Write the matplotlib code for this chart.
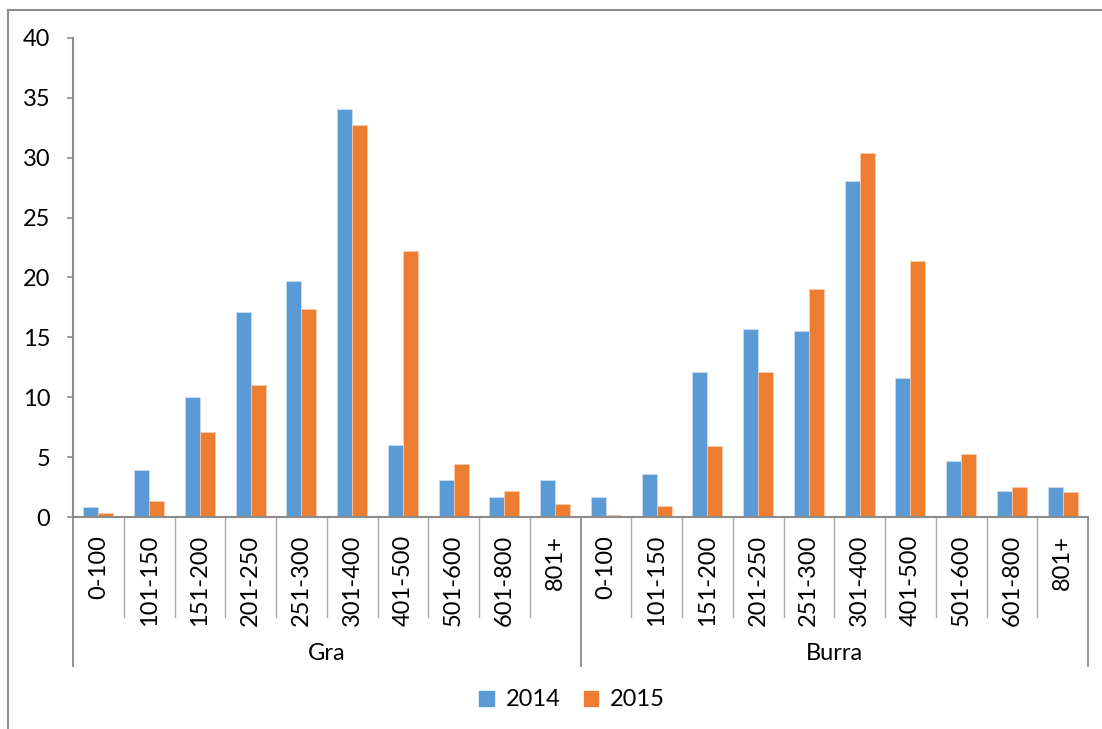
import numpy as np
import matplotlib.pyplot as plt
from matplotlib.lines import Line2D
from matplotlib.patches import Patch

plt.rcParams['font.family'] = ['Lato', 'DejaVu Sans']

bins = ['0-100', '101-150', '151-200', '201-250', '251-300',
        '301-400', '401-500', '501-600', '601-800', '801+']
groups = ['Gra', 'Burra']

gra_2014 = [0.8, 3.9, 10.0, 17.1, 19.7, 34.1, 6.0, 3.1, 1.7, 3.1]
gra_2015 = [0.3, 1.3, 7.1, 11.0, 17.4, 32.7, 22.2, 4.4, 2.2, 1.1]
burra_2014 = [1.7, 3.6, 12.1, 15.7, 15.5, 28.1, 11.6, 4.7, 2.2, 2.5]
burra_2015 = [0.15, 0.9, 5.9, 12.1, 19.0, 30.4, 21.4, 5.3, 2.5, 2.1]

blue = '#5B9BD5'
orange = '#ED7D31'
grey = '#8C8C8C'
fs = 17

vals_2014 = gra_2014 + burra_2014
vals_2015 = gra_2015 + burra_2015
n = len(vals_2014)
x = np.arange(n) + 0.5
w = 0.296

fig = plt.figure(figsize=(11.02, 7.29), dpi=100)
ax = fig.add_axes([73 / 1102, 1 - 517 / 729, 1015 / 1102, 479 / 729])

ax.bar(x - w / 2, vals_2014, w, color=blue, edgecolor='#CFE0F2', linewidth=0.5)
ax.bar(x + w / 2, vals_2015, w, color=orange, edgecolor='#F8CFB5', linewidth=0.5)

ax.set_xlim(0, n)
ax.set_ylim(0, 40)
ax.set_yticks(np.arange(0, 41, 5))
ax.tick_params(axis='y', length=4.5, width=1.2, color=grey, pad=12, labelsize=fs)
ax.set_xticks([])

for side in ['top', 'right']:
    ax.spines[side].set_visible(False)
for side in ['left', 'bottom']:
    ax.spines[side].set_color(grey)
    ax.spines[side].set_linewidth(1.5)

# two-level category axis below the bars
tr = ax.get_xaxis_transform()
for i in range(n + 1):
    bottom = -0.311 if i % len(bins) == 0 else -0.2088
    ax.add_line(Line2D([i, i], [0, bottom], transform=tr, color=grey,
                       lw=1.3 if i % len(bins) == 0 else 1.0,
                       alpha=1 if i % len(bins) == 0 else 0.75, clip_on=False))
for i in range(n):
    ax.text(x[i], -0.0376, bins[i % len(bins)], transform=tr, rotation=90,
            ha='center', va='top', fontsize=fs)
for g, name in enumerate(groups):
    ax.text(g * len(bins) + len(bins) / 2, -0.284, name, transform=tr,
            ha='center', va='center', fontsize=fs)

# chart frame
fig.add_artist(Line2D([7.5 / 1102, 1], [1 - 9.5 / 729, 1 - 9.5 / 729],
                      transform=fig.transFigure, color=grey, lw=1.5))
fig.add_artist(Line2D([7.5 / 1102, 7.5 / 1102], [1 - 9.5 / 729, 0],
                      transform=fig.transFigure, color=grey, lw=1.5))

handles = [Patch(color=blue, label='2014'), Patch(color=orange, label='2015')]
fig.legend(handles=handles, loc='center', bbox_to_anchor=(572 / 1102, 1 - 700 / 729),
           ncol=2, frameon=False, fontsize=fs, handlelength=0.6, handleheight=0.6,
           handletextpad=0.5, columnspacing=1.0)

fig.savefig('out.png', dpi=100)
